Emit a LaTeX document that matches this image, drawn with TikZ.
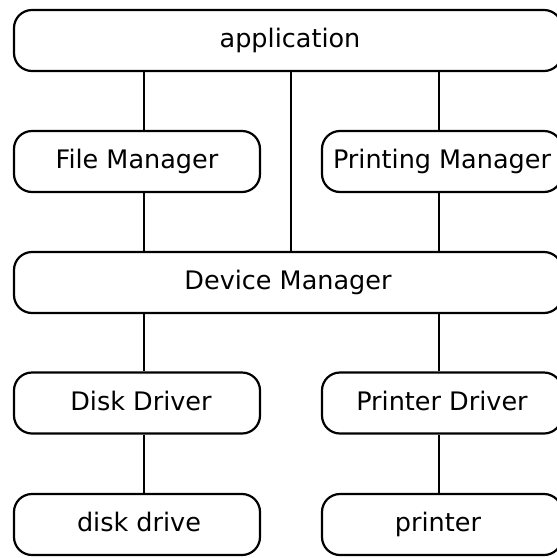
\documentclass[tikz,border=0pt]{standalone}
\usepackage{fontspec}
\setmainfont{DejaVu Sans}
\begin{document}
\begin{tikzpicture}[x=1pt,y=-1pt,
  layer/.style={draw=black, line width=2.2pt, rounded corners=18pt, fill=white,
    inner sep=0pt},
  wide/.style={layer, minimum width=548pt, minimum height=61pt},
  leftbox/.style={layer, minimum width=246pt, minimum height=61pt},
  rightbox/.style={layer, minimum width=240pt, minimum height=61pt},
  label/.style={inner sep=0pt, text=black, text height=19pt, text depth=5pt,
    font=\fontsize{25.5}{30}\selectfont},
  link/.style={draw=black, line width=1.5pt}]
  \clip (0,0) rectangle (557,558);
  \fill[white] (0,0) rectangle (557,558);

  % columns of the vertical links
  \coordinate (colL) at (144,0);
  \coordinate (colM) at (291,0);
  \coordinate (colR) at (439,0);

  % the layer boxes
  \path (288,40.5) node[wide] (app) {}
        (137,161.5) node[leftbox] (fm) {}
        (442,161.5) node[rightbox] (pm) {}
        (288,282.5) node[wide] (dm) {}
        (137,403) node[leftbox] (dd) {}
        (442,403) node[rightbox] (pd) {}
        (137,524.5) node[leftbox] (disk) {}
        (442,524.5) node[rightbox] (prn) {};

  % links between the layers
  \draw[link] (app.south -| colL) -- (fm.north -| colL);
  \draw[link] (app.south -| colM) -- (dm.north -| colM);
  \draw[link] (app.south -| colR) -- (pm.north -| colR);
  \draw[link] (fm.south -| colL) -- (dm.north -| colL);
  \draw[link] (pm.south -| colR) -- (dm.north -| colR);
  \draw[link] (dm.south -| colL) -- (dd.north -| colL);
  \draw[link] (dm.south -| colR) -- (pd.north -| colR);
  \draw[link] (dd.south -| colL) -- (disk.north -| colL);
  \draw[link] (pd.south -| colR) -- (prn.north -| colR);

  % labels
  \node[label] at ([xshift=2pt]app.center) {application};
  \node[label] at (fm.center) {File Manager};
  \node[label] at (pm.center) {Printing Manager};
  \node[label] at (dm.center) {Device Manager};
  \node[label] at ([xshift=4pt]dd.center) {Disk Driver};
  \node[label] at (pd.center) {Printer Driver};
  \node[label] at ([xshift=2pt]disk.center) {disk drive};
  \node[label] at ([xshift=-4pt]prn.center) {printer};
\end{tikzpicture}
\end{document}
